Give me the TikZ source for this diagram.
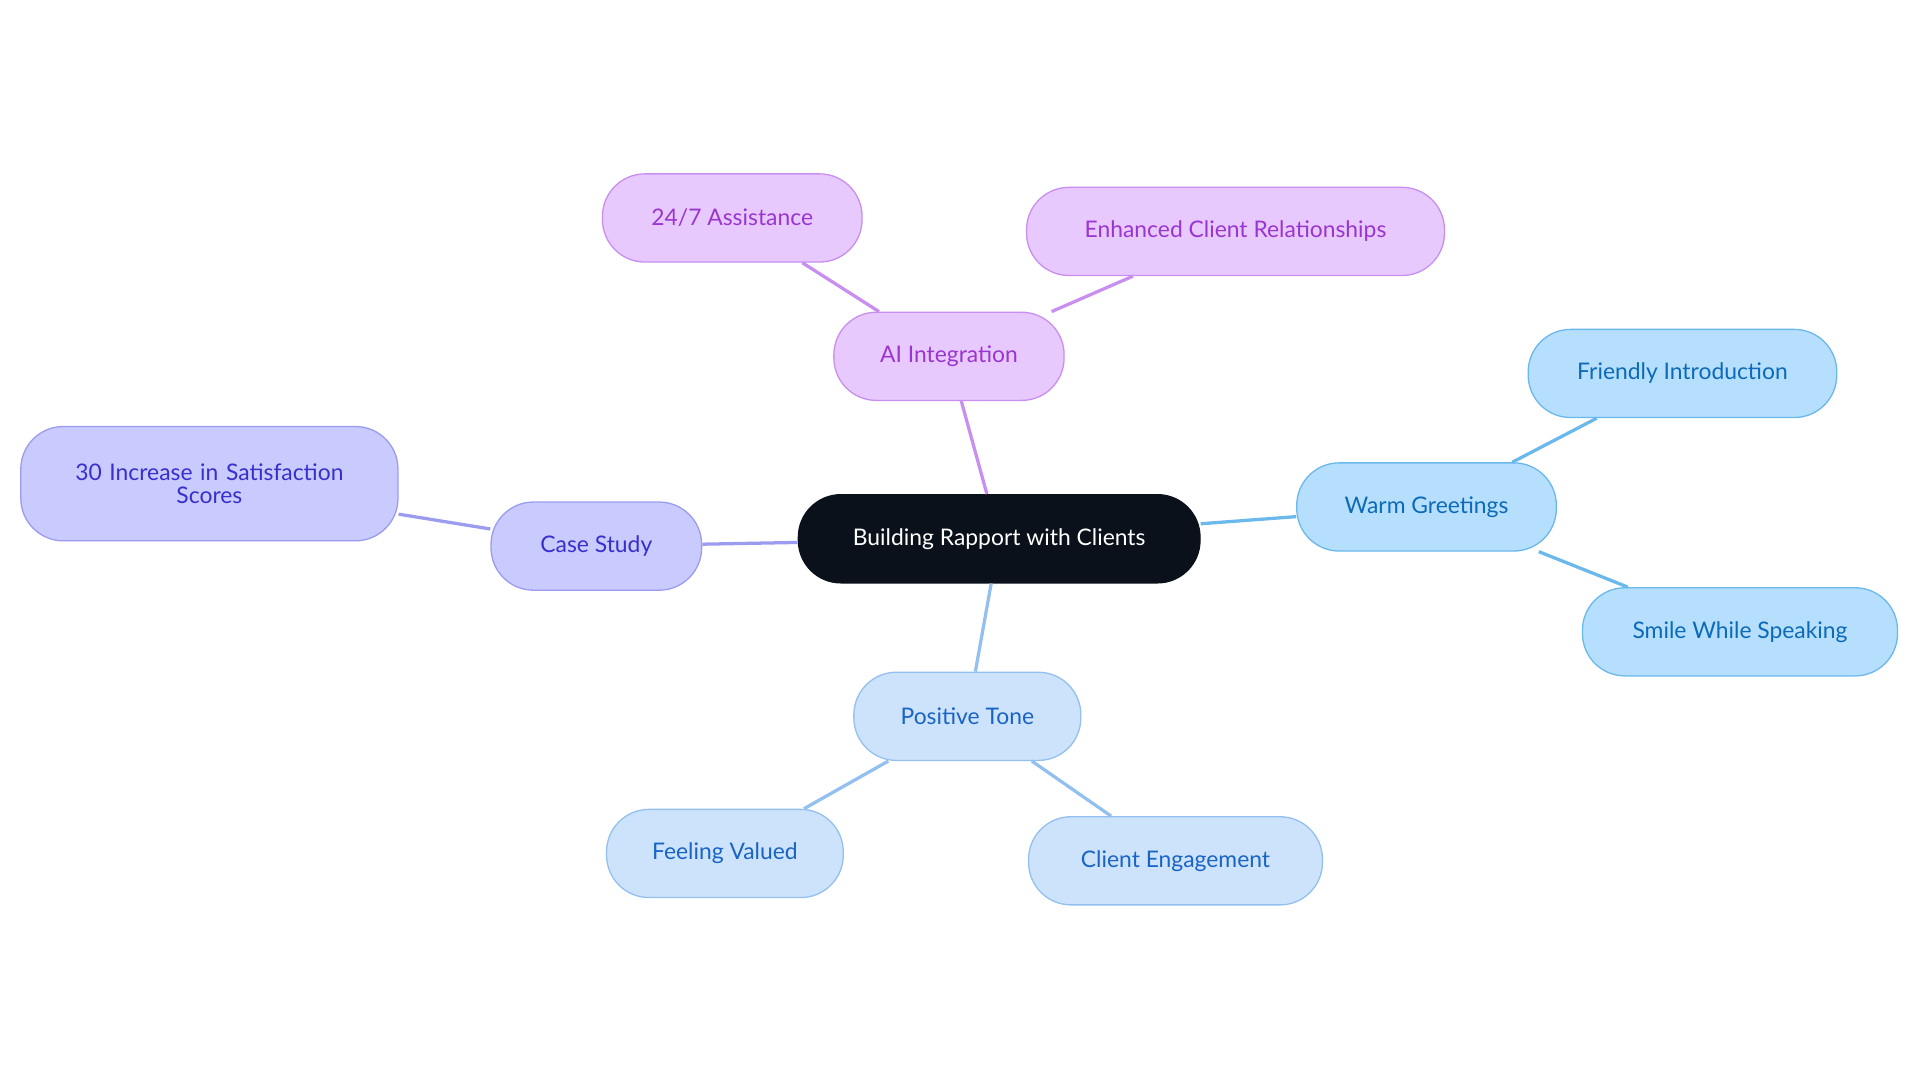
\documentclass[tikz,border=0pt]{standalone}
\usepackage{fontspec}
\setmainfont{Lato}
\usetikzlibrary{positioning}

\definecolor{rootfill}{HTML}{0B111A}
\definecolor{aifill}{HTML}{E8C9FD}\definecolor{aidraw}{HTML}{C98FF0}\definecolor{aitext}{HTML}{9A35D0}
\definecolor{wgfill}{HTML}{B5DFFC}\definecolor{wgdraw}{HTML}{6BB8EC}\definecolor{wgtext}{HTML}{0D6AB8}
\definecolor{ptfill}{HTML}{CDE3FB}\definecolor{ptdraw}{HTML}{94C0EF}\definecolor{pttext}{HTML}{1A64C4}
\definecolor{csfill}{HTML}{C9CAFD}\definecolor{csdraw}{HTML}{9B9CF0}\definecolor{cstext}{HTML}{3A2FCC}

\tikzset{
  pill/.style={draw, line width=0.8pt, rounded corners=26pt, minimum height=54pt,
    align=center, font=\fontsize{14}{16}\selectfont, inner xsep=12pt},
  root/.style={pill, fill=rootfill, draw=rootfill, text=white},
  ai/.style={pill, fill=aifill, draw=aidraw, text=aitext},
  wg/.style={pill, fill=wgfill, draw=wgdraw, text=wgtext},
  pt/.style={pill, fill=ptfill, draw=ptdraw, text=pttext},
  cs/.style={pill, fill=csfill, draw=csdraw, text=cstext},
  link/.style={line width=2pt}
}

\begin{document}
\begin{tikzpicture}[x=0.75pt,y=-0.75pt]
    \useasboundingbox (0,0) rectangle (1568,884);

    \node[root,minimum width=246pt] (brc) at (816,440) {Building Rapport with Clients};

    \node[ai,minimum width=141pt] (ai) at (775,291) {AI Integration};
    \node[ai,minimum width=159pt] (aa) at (598,178) {24/7 Assistance};
    \node[ai,minimum width=256pt] (ecr) at (1009,189) {Enhanced Client Relationships};

    \node[wg,minimum width=159pt] (wg) at (1165,414) {Warm Greetings};
    \node[wg,minimum width=189pt] (fi) at (1374,305) {Friendly Introduction};
    \node[wg,minimum width=193pt] (sws) at (1421,516) {Smile While Speaking};

    \node[pt,minimum width=139pt] (pt) at (790,585) {Positive Tone};
    \node[pt,minimum width=145pt] (fv) at (592,697) {Feeling Valued};
    \node[pt,minimum width=180pt] (ce) at (960,703) {Client Engagement};

    \node[cs,minimum width=129pt] (cs) at (487,446) {Case Study};
    \node[cs,minimum width=231pt,minimum height=70pt,text width=200pt] (sat) at (171,395) {30 Increase in Satisfaction\\[-2pt]Scores};

    \draw[link,draw=aidraw] (brc) -- (ai);
    \draw[link,draw=aidraw] (ai) -- (aa);
    \draw[link,draw=aidraw] (ai) -- (ecr);
    \draw[link,draw=wgdraw] (brc) -- (wg);
    \draw[link,draw=wgdraw] (wg) -- (fi);
    \draw[link,draw=wgdraw] (wg) -- (sws);
    \draw[link,draw=ptdraw] (brc) -- (pt);
    \draw[link,draw=ptdraw] (pt) -- (fv);
    \draw[link,draw=ptdraw] (pt) -- (ce);
    \draw[link,draw=csdraw] (brc) -- (cs);
    \draw[link,draw=csdraw] (cs) -- (sat);

\end{tikzpicture}
\end{document}
